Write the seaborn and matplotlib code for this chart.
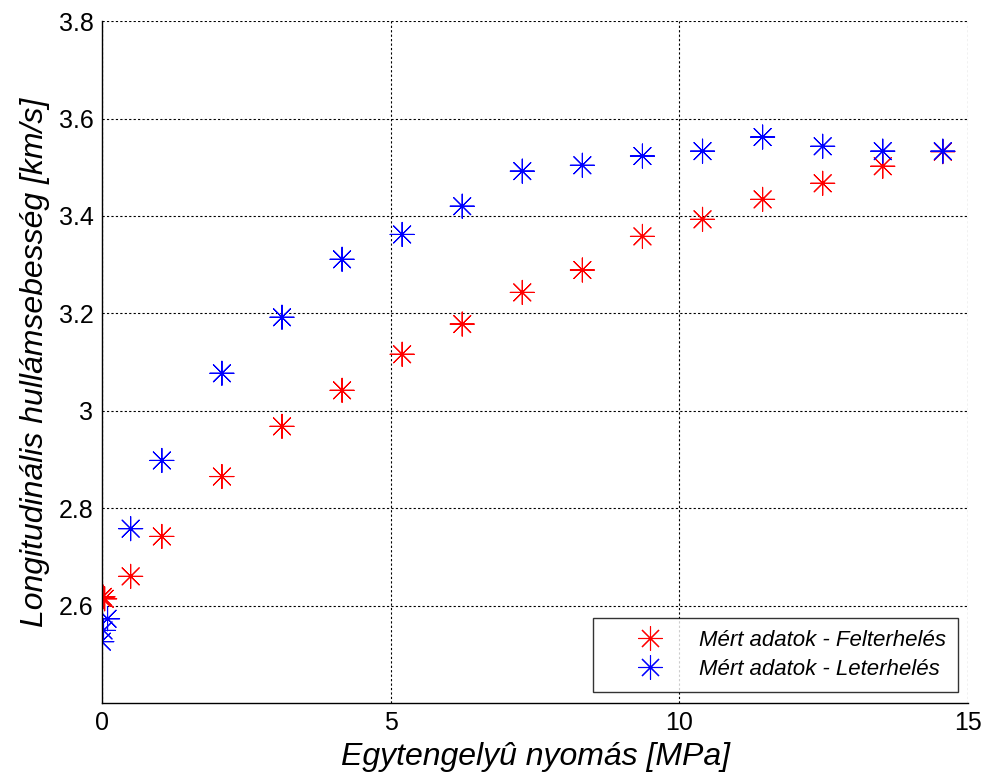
import numpy as np
import pandas as pd
import matplotlib
matplotlib.use("Agg")
import matplotlib.pyplot as plt
import seaborn as sns

x_fel = [0.0, 0.02, 0.05, 0.50, 1.04, 2.08, 3.12, 4.16, 5.20, 6.24, 7.28, 8.32, 9.36, 10.40, 11.44, 12.48, 13.52, 14.56]
y_fel = [2.616, 2.618, 2.614, 2.660, 2.742, 2.865, 2.968, 3.042, 3.116, 3.178, 3.243, 3.289, 3.358, 3.393, 3.434, 3.467, 3.502, 3.532]
x_le = [0.0, 0.03, 0.10, 0.50, 1.04, 2.08, 3.12, 4.16, 5.20, 6.24, 7.28, 8.32, 9.36, 10.40, 11.44, 12.48, 13.52, 14.56]
y_le = [2.526, 2.549, 2.573, 2.758, 2.898, 3.077, 3.192, 3.311, 3.362, 3.420, 3.492, 3.504, 3.523, 3.533, 3.562, 3.543, 3.533, 3.533]
series = ["Mért adatok - Felterhelés", "Mért adatok - Leterhelés"]
colors = ["#ff0000", "#0000ff"]
x_ticks = [0, 5, 10, 15]
y_ticks = [2.6, 2.8, 3.0, 3.2, 3.4, 3.6, 3.8]
y_ticklabels = ["2.6", "2.8", "3", "3.2", "3.4", "3.6", "3.8"]

df = pd.DataFrame({
    "x": x_fel + x_le,
    "y": y_fel + y_le,
    "s": [series[0]] * len(x_fel) + [series[1]] * len(x_le),
})

sns.set_style("white")
plt.rcParams["font.family"] = ["Liberation Sans", "DejaVu Sans"]
plt.rcParams["text.color"] = "black"
plt.rcParams["axes.labelcolor"] = "black"
plt.rcParams["xtick.color"] = "black"
plt.rcParams["ytick.color"] = "black"

fig = plt.figure(figsize=(9.88, 7.82), dpi=100)
ax = fig.add_axes([0.103, 0.101, 0.877, 0.872])

sns.scatterplot(data=df, x="x", y="y", hue="s", palette=dict(zip(series, colors)),
                marker=(8, 2, 0), s=300, linewidth=0.8, ax=ax, legend=True)

ax.set_xlim(0, 15)
ax.set_ylim(2.4, 3.8)
ax.set_xticks(x_ticks)
ax.set_xticklabels([str(t) for t in x_ticks])
ax.set_yticks(y_ticks)
ax.set_yticklabels(y_ticklabels)
ax.tick_params(labelsize=18, direction="in", length=4, color="black", labelcolor="black", pad=6)
ax.grid(True, linestyle=(0, (2, 2)), color="black", linewidth=0.8)
for sp in ["top", "right"]:
    ax.spines[sp].set_visible(False)
for sp in ["left", "bottom"]:
    ax.spines[sp].set_color("black")
    ax.spines[sp].set_linewidth(1.0)

ax.set_xlabel("Egytengelyû nyomás [MPa]", fontsize=23, style="italic", labelpad=5)
ax.set_ylabel("Longitudinális hullámsebesség [km/s]", fontsize=23, style="italic", labelpad=6)

leg = ax.legend(loc="lower right", bbox_to_anchor=(0.988, 0.016), frameon=True, fancybox=False,
                edgecolor="black", prop={"style": "italic", "size": 16},
                handletextpad=0.2, borderpad=0.55, markerscale=1.0, borderaxespad=0,
                handlelength=4.0, labelspacing=0.35)
leg.get_frame().set_linewidth(1.0)

fig.savefig("out.png", dpi=100, facecolor="white")
